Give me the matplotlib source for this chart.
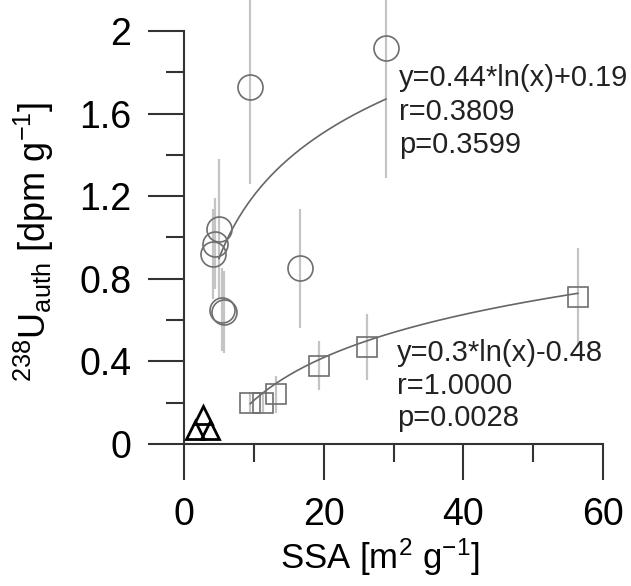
import numpy as np
import matplotlib
matplotlib.use('Agg')
import matplotlib.pyplot as plt
from matplotlib.ticker import MultipleLocator

plt.rcParams['font.family'] = ['Liberation Sans', 'DejaVu Sans']
plt.rcParams['mathtext.fontset'] = 'custom'
plt.rcParams['mathtext.rm'] = 'Liberation Sans'
plt.rcParams['mathtext.it'] = 'Liberation Sans'

# circles (group 1)
circ_x = [4.2, 4.4, 5.0, 5.4, 5.7, 9.5, 16.6, 28.9]
circ_y = [0.92, 0.97, 1.04, 0.65, 0.64, 1.73, 0.85, 1.92]
circ_err = [0.22, 0.22, 0.34, 0.20, 0.20, 0.47, 0.29, 0.63]

# squares (group 2)
sq_x = [9.5, 11.3, 13.2, 19.4, 26.2, 56.4]
sq_y = [0.20, 0.20, 0.24, 0.38, 0.47, 0.71]
sq_err = [0.05, 0.05, 0.09, 0.12, 0.16, 0.24]

# triangles (group 3)
tri_x = [1.6, 3.7, 2.7]
tri_y = [0.07, 0.07, 0.14]

# log fits y = a*ln(x) + b
fit1 = (0.44, 0.19)
fit2 = (0.3, -0.48)
fit1_text = ['y=0.44*ln(x)+0.19', 'r=0.3809', 'p=0.3599']
fit2_text = ['y=0.3*ln(x)-0.48', 'r=1.0000', 'p=0.0028']

fig = plt.figure(figsize=(6.31, 5.86), dpi=100)
ax = fig.add_axes([184 / 631, 1 - 444 / 586, 419 / 631, 413 / 586])

err_col = '#c4c4c4'
mk_col = '#6e6e6e'

ax.errorbar(circ_x, circ_y, yerr=circ_err, fmt='none', ecolor=err_col,
            elinewidth=1.6, capsize=0, clip_on=False, zorder=1)
ax.errorbar(sq_x, sq_y, yerr=sq_err, fmt='none', ecolor=err_col,
            elinewidth=1.6, capsize=0, clip_on=False, zorder=1)

xs1 = np.linspace(5.0, max(circ_x), 200)
ax.plot(xs1, fit1[0] * np.log(xs1) + fit1[1], color='#666666', lw=1.2, zorder=2)
xs2 = np.linspace(min(sq_x), max(sq_x), 200)
ax.plot(xs2, fit2[0] * np.log(xs2) + fit2[1], color='#666666', lw=1.2, zorder=2)

ax.plot(circ_x, circ_y, 'o', ms=18, mfc='none', mec=mk_col, mew=1.2,
        clip_on=False, zorder=3)
ax.plot(sq_x, sq_y, 's', ms=15, mfc='none', mec=mk_col, mew=1.2,
        clip_on=False, zorder=3)
ax.plot(tri_x, tri_y, '^', ms=13, mfc='none', mec='black', mew=2.0,
        clip_on=False, zorder=3)

for i, s in enumerate(fit1_text):
    ax.text(30.8, 1.77 - 0.16 * i, s, fontsize=21, va='center', ha='left',
            color='#222222')
for i, s in enumerate(fit2_text):
    ax.text(30.5, 0.44 - 0.157 * i, s, fontsize=21, va='center', ha='left',
            color='#222222')

ax.set_xlim(0, 60)
ax.set_ylim(0, 2)
ax.spines['top'].set_visible(False)
ax.spines['right'].set_visible(False)
for sp in ['left', 'bottom']:
    ax.spines[sp].set_linewidth(1.5)
    ax.spines[sp].set_color('#333333')

ax.xaxis.set_major_locator(MultipleLocator(20))
ax.xaxis.set_minor_locator(MultipleLocator(10))
ax.yaxis.set_major_locator(MultipleLocator(0.4))
ax.yaxis.set_minor_locator(MultipleLocator(0.2))
ax.set_yticks([0, 0.4, 0.8, 1.2, 1.6, 2])
ax.set_yticklabels(['0', '0.4', '0.8', '1.2', '1.6', '2'])

ax.tick_params(which='major', direction='out', length=26, width=1.5,
               color='#333333', labelsize=27, pad=12)
ax.tick_params(which='minor', direction='out', length=13, width=1.5,
               color='#333333')

ax.set_xlabel(r'SSA [m$^{2}$ g$^{-1}$]', fontsize=25)
ax.xaxis.set_label_coords(0.468, -0.225)
ax.set_ylabel(r'$^{238}$U$_{auth}$ [dpm g$^{-1}$]', fontsize=26)
ax.yaxis.set_label_coords(-0.305, 0.49)

fig.savefig('out.png', dpi=100)
